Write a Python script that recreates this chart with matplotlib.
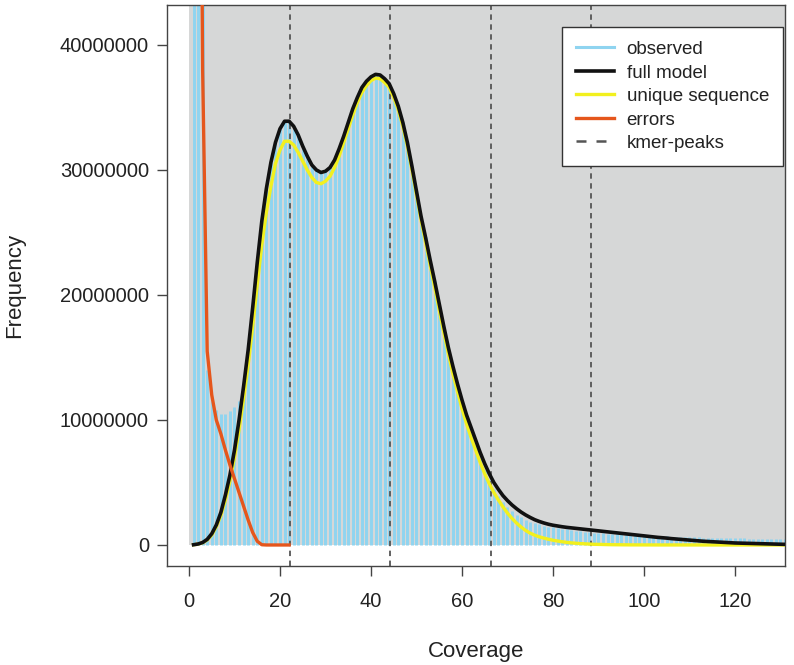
import numpy as np
import matplotlib.pyplot as plt
from matplotlib.patches import Rectangle

plt.rcParams['font.family'] = ['Liberation Sans', 'DejaVu Sans']

# coverage values (integer k-mer coverage)
coverage = list(range(1, 132))

# observed k-mer frequencies (millions)
observed = [300.0, 120.0, 50.0, 14.0, 11.5, 10.8, 10.5, 10.5, 10.7, 11.0,
            11.5, 13.0, 15.6, 19.0, 22.6, 25.9, 28.5, 30.6, 32.2, 33.3,
            33.9, 33.9, 33.5, 32.8, 31.9, 31.1, 30.4, 30.0, 29.8, 29.9,
            30.2, 30.8, 31.7, 32.7, 33.8, 34.9, 35.8, 36.6, 37.1, 37.45,
            37.65, 37.6, 37.3, 36.9, 36.1, 35.1, 33.8, 32.2, 30.3, 28.3,
            26.3, 24.6, 22.8, 21.1, 19.3, 17.4, 15.7, 14.1, 12.6, 11.2,
            10.0, 8.9, 7.9, 6.9, 6.0, 5.2, 4.5, 3.9, 3.4, 3.0,
            2.7, 2.4, 2.2, 2.0, 1.85, 1.75, 1.65, 1.55, 1.47, 1.4,
            1.35, 1.3, 1.25, 1.2, 1.15, 1.1, 1.06, 1.02, 0.98, 0.95,
            0.93, 0.91, 0.89, 0.87, 0.85, 0.83, 0.81, 0.79, 0.77, 0.75,
            0.74, 0.72, 0.71, 0.69, 0.68, 0.67, 0.66, 0.65, 0.63, 0.62,
            0.61, 0.6, 0.59, 0.58, 0.57, 0.56, 0.56, 0.55, 0.54, 0.53,
            0.53, 0.52, 0.51, 0.51, 0.5, 0.5, 0.49, 0.49, 0.48, 0.47, 0.47]

# full model
full_model = [0.02, 0.08, 0.2, 0.45, 0.9, 1.6, 2.6, 4.0, 5.6, 7.6,
              10.0, 12.7, 15.6, 19.0, 22.6, 25.9, 28.5, 30.6, 32.2, 33.3,
              33.9, 33.9, 33.5, 32.8, 31.9, 31.1, 30.4, 30.0, 29.8, 29.9,
              30.2, 30.8, 31.7, 32.7, 33.8, 34.9, 35.8, 36.6, 37.1, 37.45,
              37.65, 37.6, 37.3, 36.9, 36.1, 35.1, 33.8, 32.2, 30.3, 28.3,
              26.3, 24.6, 22.8, 21.1, 19.3, 17.5, 15.8, 14.3, 12.9, 11.6,
              10.4, 9.4, 8.4, 7.4, 6.5, 5.7, 5.0, 4.45, 3.95, 3.55,
              3.2, 2.9, 2.63, 2.4, 2.2, 2.02, 1.88, 1.76, 1.66, 1.58,
              1.52, 1.46, 1.41, 1.37, 1.33, 1.29, 1.25, 1.21, 1.17, 1.13,
              1.09, 1.05, 1.01, 0.97, 0.93, 0.89, 0.85, 0.81, 0.77, 0.73,
              0.69, 0.65, 0.61, 0.58, 0.55, 0.51, 0.48, 0.45, 0.42, 0.39,
              0.36, 0.33, 0.3, 0.28, 0.26, 0.24, 0.22, 0.2, 0.18, 0.16,
              0.15, 0.14, 0.13, 0.12, 0.11, 0.1, 0.09, 0.08, 0.07, 0.06, 0.05]

# unique sequence component
unique_seq = [0.02, 0.07, 0.18, 0.4, 0.8, 1.45, 2.35, 3.6, 5.1, 7.0,
              9.2, 11.7, 14.4, 17.5, 20.8, 24.0, 26.6, 28.7, 30.5, 31.6,
              32.3, 32.3, 32.0, 31.4, 30.7, 30.0, 29.4, 29.0, 28.9, 29.1,
              29.5, 30.2, 31.1, 32.2, 33.3, 34.4, 35.4, 36.2, 36.75, 37.15,
              37.35, 37.3, 37.0, 36.6, 35.8, 34.8, 33.5, 31.9, 30.0, 28.0,
              26.0, 24.2, 22.4, 20.6, 18.8, 17.0, 15.3, 13.7, 12.3, 10.9,
              9.7, 8.6, 7.6, 6.6, 5.7, 4.9, 4.2, 3.6, 3.05, 2.55,
              2.12, 1.75, 1.43, 1.16, 0.94, 0.78, 0.65, 0.55, 0.46, 0.38,
              0.32, 0.26, 0.21, 0.17, 0.14, 0.11, 0.09, 0.07, 0.055, 0.045,
              0.035, 0.028, 0.022, 0.017, 0.013, 0.01, 0.008, 0.006, 0.005, 0.004,
              0.003, 0.003, 0.002, 0.002, 0.002, 0.001, 0.001, 0.001, 0.001, 0.001,
              0.0, 0.0, 0.0, 0.0, 0.0, 0.0, 0.0, 0.0, 0.0, 0.0,
              0.0, 0.0, 0.0, 0.0, 0.0, 0.0, 0.0, 0.0, 0.0, 0.0, 0.0]

# error k-mers
err_cov = list(range(1, 23))
errors = [300.0, 90.0, 38.0, 15.5, 12.0, 10.0, 8.9, 7.6, 6.4, 5.3,
          4.2, 3.1, 2.0, 1.0, 0.3, 0.02, 0.0, 0.0, 0.0, 0.0, 0.0, 0.0]

# kmer peaks
peaks = [22.1, 44.2, 66.3, 88.4]

M = 1e6
obs = np.array(observed) * M
full = np.array(full_model) * M
uniq = np.array(unique_seq) * M
err = np.array(errors) * M

fig = plt.figure(figsize=(7.94, 6.65), dpi=100)
ax = fig.add_axes([0.2103, 0.1489, 0.7784, 0.8436])
ax.set_xlim(-4.84, 131.0)
ax.set_ylim(-1.68e6, 43.2e6)

ax.add_patch(Rectangle((0, 0), 1000, 1e10, facecolor='#d6d7d7',
                       edgecolor='none', zorder=0))
ax.vlines(coverage, 0, obs, color='#8fd4f0', lw=2.1, zorder=1)
for p in peaks:
    ax.axvline(p, color='#555555', lw=1.3, ls=(0, (3, 2.5)), zorder=2)
ax.plot(coverage, uniq, color='#f2f01e', lw=2.4, zorder=3)
ax.plot(coverage, full, color='#111111', lw=2.6, zorder=4)
ax.plot(err_cov, err, color='#e5561c', lw=2.4, zorder=5)

ax.set_xticks([0, 20, 40, 60, 80, 100, 120])
ax.set_yticks([0, 10e6, 20e6, 30e6, 40e6])
ax.set_yticklabels(['0', '10000000', '20000000', '30000000', '40000000'])
ax.tick_params(axis='both', length=7, width=1, color='#444444',
               labelsize=14.5, labelcolor='#222222')
ax.tick_params(axis='x', pad=12)
ax.tick_params(axis='y', pad=6)
for s in ax.spines.values():
    s.set_color('#444444')
    s.set_linewidth(1)

ax.set_xlabel('Coverage', fontsize=16, color='#222222', labelpad=21)
ax.set_ylabel('Frequency', fontsize=16, color='#222222')
ax.yaxis.set_label_coords(-0.230, 0.5)

handles = [
    plt.Line2D([], [], color='#8fd4f0', lw=2.2),
    plt.Line2D([], [], color='#111111', lw=2.6),
    plt.Line2D([], [], color='#f2f01e', lw=2.4),
    plt.Line2D([], [], color='#e5561c', lw=2.4),
    plt.Line2D([], [], color='#555555', lw=1.8, ls=(0, (4, 4))),
]
labels = ['observed', 'full model', 'unique sequence', 'errors', 'kmer-peaks']
leg = ax.legend(handles, labels, loc='upper right', bbox_to_anchor=(0.997, 0.961),
                borderaxespad=0, fontsize=13.5, frameon=True, fancybox=False,
                framealpha=1, edgecolor='#333333', handlelength=2.0,
                handletextpad=0.7, labelspacing=0.34, borderpad=0.75)
leg.get_frame().set_linewidth(1)
for t in leg.get_texts():
    t.set_color('#222222')

fig.savefig('out.png', dpi=100)
